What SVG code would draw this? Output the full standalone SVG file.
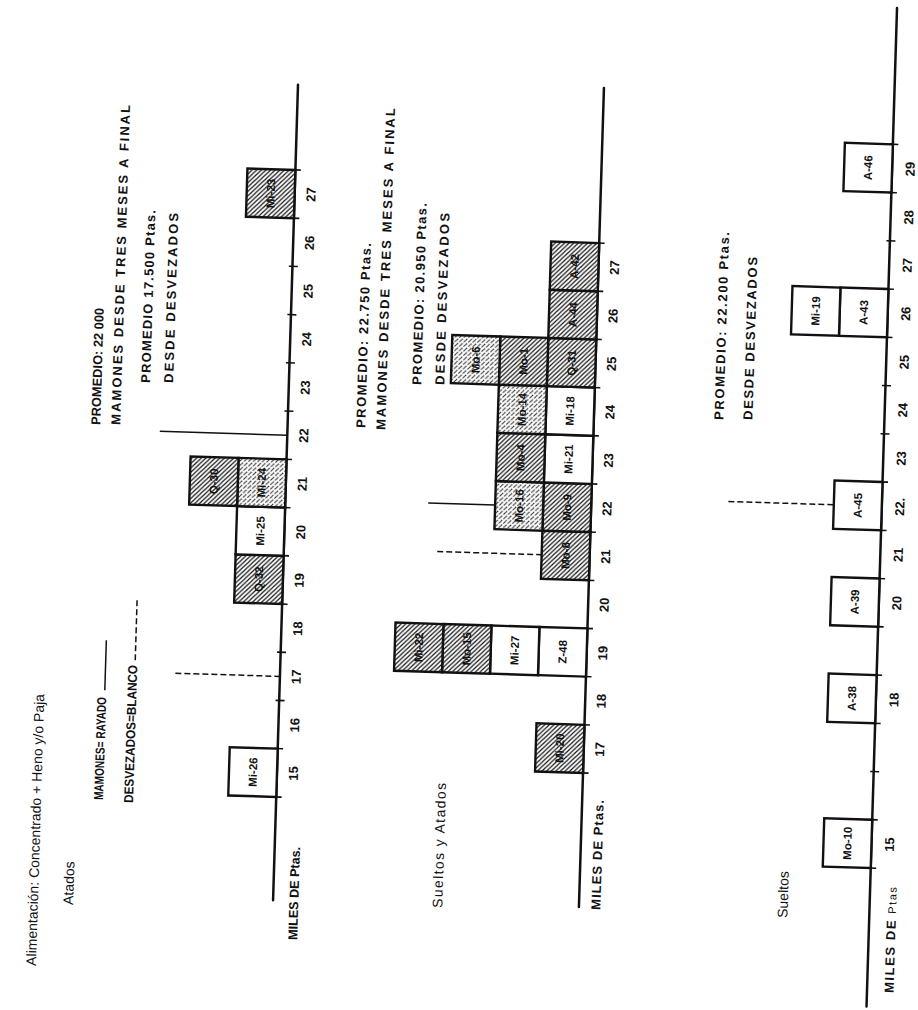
<svg xmlns="http://www.w3.org/2000/svg" width="918" height="1010" viewBox="0 0 918 1010">
<defs>
<pattern id="hatch" patternUnits="userSpaceOnUse" width="4.5" height="4.5">
<rect width="4.5" height="4.5" fill="#fff"/>
<path d="M-1,-1 L5.5,5.5 M-1,3.5 L1,5.5 M3.5,-1 L5.5,1" stroke="#111" stroke-width="1.2"/>
</pattern>
<pattern id="hatch2" patternUnits="userSpaceOnUse" width="4.5" height="4.5">
<rect width="4.5" height="4.5" fill="#fff"/>
<path d="M-1,-1 L5.5,5.5 M-1,3.5 L1,5.5 M3.5,-1 L5.5,1" stroke="#222" stroke-width="1" stroke-dasharray="3 1.5"/>
</pattern>
</defs>
<style>
.ax{stroke:#111;stroke-width:2.5;fill:none;stroke-linecap:round}
.tk{stroke:#111;stroke-width:1.6;fill:none}
.bx{stroke:#111;stroke-width:2.4;fill:#fff}
.h1{fill:url(#hatch)}
.h2{fill:url(#hatch2)}
.avg{stroke:#111;stroke-width:1.5;fill:none}
.dsh{stroke:#111;stroke-width:1.5;fill:none;stroke-dasharray:6 3}
text{font-family:"Liberation Sans",Arial,sans-serif;fill:#111}
.n{font-size:13px;font-weight:bold;text-anchor:middle}
.bl{font-size:11.5px;font-weight:bold;text-anchor:middle}
.cap{font-size:13px;font-weight:bold}
.reg{font-size:14px}
</style>
<g transform="translate(0,1010) rotate(-88.25)">

<g id="titles">
<text class="reg" x="45.1" y="34.6" font-size="13.5" textLength="272">Alimentación: Concentrado + Heno y/o Paja</text>
<text class="reg" x="107.1" y="69.8">Atados</text>
<text class="cap" x="213" y="96.6" font-size="12" textLength="103" lengthAdjust="spacingAndGlyphs">MAMONES= RAYADO</text>
<line class="avg" x1="322.9" y1="95" x2="372.9" y2="95"/>
<text class="cap" x="211" y="126.7" font-size="12" textLength="138" lengthAdjust="spacingAndGlyphs">DESVEZADOS=BLANCO</text>
<line class="dsh" x1="353.8" y1="124.5" x2="413.8" y2="124.5" stroke-dasharray="5 4"/>
<text class="cap" x="587.8" y="82.3" textLength="117" lengthAdjust="spacingAndGlyphs">PROMEDIO: 22 000</text>
<text class="cap" x="588.5" y="102.3" textLength="320">MAMONES DESDE TRES MESES A FINAL</text>
<text class="cap" x="631.3" y="130.9" textLength="173">PROMEDIO 17.500 Ptas.</text>
<text class="cap" x="632" y="153.9" textLength="170">DESDE DESVEZADOS</text>
<text class="reg" x="115.4" y="438.9" textLength="125">Sueltos y Atados</text>
<text class="cap" x="592.8" y="347.2" textLength="185">PROMEDIO: 22.750 Ptas.</text>
<text class="cap" x="591.4" y="367.3" textLength="322">MAMONES DESDE TRES MESES A FINAL</text>
<text class="cap" x="637.5" y="401.9" textLength="182">PROMEDIO: 20.950 Ptas.</text>
<text class="cap" x="638.2" y="424.9" textLength="172">DESDE DESVEZADOS</text>
<text class="reg" x="116" y="784.2">Sueltos</text>
<text class="cap" x="611.8" y="705" textLength="188">PROMEDIO: 22.200 Ptas.</text>
<text class="cap" x="612.6" y="734" textLength="163">DESDE DESVEZADOS</text>
</g>

<g id="connectors">
<line class="ax" x1="118" y1="269.6" x2="934" y2="269.6"/>
<path class="tk" d="M221.4,266v9 M269.7,266v9 M317.9,266v9 M366.2,266v9 M414.4,266v9 M462.7,266v9 M510.9,266v9 M559.2,266v9 M607.4,266v9 M655.7,266v9 M703.9,266v9 M752.2,266v9 M800.4,266v9 M848.7,266v9"/>
<line class="avg" x1="583.3" y1="142" x2="583.3" y2="269.6"/>
<line class="dsh" x1="342" y1="165" x2="342" y2="269.6"/>
<line class="ax" x1="120.6" y1="575.5" x2="940" y2="575.5"/>
<path class="tk" d="M254.7,572v9 M302.9,572v9 M351.1,572v9 M399.3,572v9 M447.5,572v9 M495.7,572v9 M543.9,572v9 M592.1,572v9 M640.3,572v9 M688.5,572v9 M736.7,572v9 M784.9,572v9"/>
<line class="avg" x1="519.8" y1="412.5" x2="519.8" y2="479.5"/>
<line class="dsh" x1="471.6" y1="423" x2="471.6" y2="527.5"/>
<line class="ax" x1="30" y1="866" x2="1029" y2="866"/>
<path class="tk" d="M168.5,862.5v9 M216.8,862.5v9 M265,862.5v9 M313.3,862.5v9 M361.6,862.5v9 M409.9,862.5v9 M458.1,862.5v9 M506.4,862.5v9 M554.7,862.5v9 M602.9,862.5v9 M651.2,862.5v9 M699.5,862.5v9 M747.7,862.5v9 M796,862.5v9 M844.3,862.5v9 M892.6,862.5v9"/>
<line class="dsh" x1="530.5" y1="712.5" x2="530.5" y2="818"/>
</g>

<g id="axis-labels">
<text class="cap" x="79.1" y="294.9" font-size="12.5" textLength="93" lengthAdjust="spacingAndGlyphs">MILES DE Ptas.</text>
<text class="n" x="245.5" y="290.5">15</text><text class="n" x="293.8" y="290.5">16</text><text class="n" x="342" y="290.5">17</text><text class="n" x="390.3" y="290.5">18</text><text class="n" x="438.5" y="290.5">19</text><text class="n" x="486.8" y="290.5">20</text><text class="n" x="535" y="290.5">21</text><text class="n" x="583.3" y="290.5">22</text><text class="n" x="631.5" y="290.5">23</text><text class="n" x="679.8" y="290.5">24</text><text class="n" x="728" y="290.5">25</text><text class="n" x="776.3" y="290.5">26</text><text class="n" x="824.5" y="290.5">27</text>
<text class="cap" x="118.3" y="597" font-size="12.5" textLength="110">MILES DE Ptas.</text>
<text class="n" x="278.8" y="596">17</text><text class="n" x="327" y="596">18</text><text class="n" x="375.2" y="596">19</text><text class="n" x="423.4" y="596">20</text><text class="n" x="471.6" y="596">21</text><text class="n" x="519.8" y="596">22</text><text class="n" x="568" y="596">23</text><text class="n" x="616.2" y="596">24</text><text class="n" x="664.4" y="596">25</text><text class="n" x="712.6" y="596">26</text><text class="n" x="760.8" y="596">27</text>
<text class="cap" x="44.2" y="892.5" font-size="12.5" textLength="106">MILES DE <tspan font-weight="normal" font-size="11">Ptas</tspan></text>
<text class="n" x="192.6" y="888.5">15</text><text class="n" x="337.4" y="888.5">18</text><text class="n" x="434" y="888.5">20</text><text class="n" x="482.3" y="888.5">21</text><text class="n" x="530.5" y="888.5">22.</text><text class="n" x="578.8" y="888.5">23</text><text class="n" x="627.1" y="888.5">24</text><text class="n" x="675.3" y="888.5">25</text><text class="n" x="723.6" y="888.5">26</text><text class="n" x="771.9" y="888.5">27</text><text class="n" x="820.1" y="888.5">28</text><text class="n" x="868.4" y="888.5">29</text>
</g>

<g id="p1-Mi-26"><rect class="bx" x="221.4" y="221.6" width="48.25" height="48"/><text class="bl" x="245.5" y="249.6">Mi-26</text></g>
<g id="p1-Q-32"><rect class="bx h1" x="414.4" y="221.6" width="48.25" height="48"/><text class="bl" x="438.5" y="249.6">Q-32</text></g>
<g id="p1-Mi-25"><rect class="bx" x="462.65" y="221.6" width="48.25" height="48"/><text class="bl" x="486.8" y="249.6">Mi-25</text></g>
<g id="p1-Mi-24"><rect class="bx h2" x="510.9" y="221.6" width="48.25" height="48"/><text class="bl" x="535" y="249.6">Mi-24</text></g>
<g id="p1-Q-30"><rect class="bx h1" x="510.9" y="173.6" width="48.25" height="48"/><text class="bl" x="535" y="201.6">Q-30</text></g>
<g id="p1-Mi-23"><rect class="bx h1" x="800.4" y="221.6" width="48.25" height="48"/><text class="bl" x="824.5" y="249.6">Mi-23</text></g>

<g id="p2-Mi-20"><rect class="bx h1" x="254.7" y="527.5" width="48.2" height="48"/><text class="bl" x="278.8" y="555.5">Mi-20</text></g>
<g id="p2-Z-48"><rect class="bx" x="351.1" y="527.5" width="48.2" height="48"/><text class="bl" x="375.2" y="555.5">Z-48</text></g>
<g id="p2-Mi-27"><rect class="bx" x="351.1" y="479.5" width="48.2" height="48"/><text class="bl" x="375.2" y="507.5">Mi-27</text></g>
<g id="p2-Mo-15"><rect class="bx h1" x="351.1" y="431.5" width="48.2" height="48"/><text class="bl" x="375.2" y="459.5">Mo-15</text></g>
<g id="p2-Mi-22"><rect class="bx h1" x="351.1" y="383.5" width="48.2" height="48"/><text class="bl" x="375.2" y="411.5">Mi-22</text></g>
<g id="p2-Mo-8"><rect class="bx h1" x="447.5" y="527.5" width="48.2" height="48"/><text class="bl" x="471.6" y="555.5">Mo-8</text></g>
<g id="p2-Mo-9"><rect class="bx h1" x="495.7" y="527.5" width="48.2" height="48"/><text class="bl" x="519.8" y="555.5">Mo-9</text></g>
<g id="p2-Mo-16"><rect class="bx h2" x="495.7" y="479.5" width="48.2" height="48"/><text class="bl" x="519.8" y="507.5">Mo-16</text></g>
<g id="p2-Mi-21"><rect class="bx" x="543.9" y="527.5" width="48.2" height="48"/><text class="bl" x="568" y="555.5">Mi-21</text></g>
<g id="p2-Mo-4"><rect class="bx h1" x="543.9" y="479.5" width="48.2" height="48"/><text class="bl" x="568" y="507.5">Mo-4</text></g>
<g id="p2-Mi-18"><rect class="bx" x="592.1" y="527.5" width="48.2" height="48"/><text class="bl" x="616.2" y="555.5">Mi-18</text></g>
<g id="p2-Mo-14"><rect class="bx h2" x="592.1" y="479.5" width="48.2" height="48"/><text class="bl" x="616.2" y="507.5">Mo-14</text></g>
<g id="p2-Q-31"><rect class="bx h1" x="640.3" y="527.5" width="48.2" height="48"/><text class="bl" x="664.4" y="555.5">Q-31</text></g>
<g id="p2-Mo-1"><rect class="bx h1" x="640.3" y="479.5" width="48.2" height="48"/><text class="bl" x="664.4" y="507.5">Mo-1</text></g>
<g id="p2-Mo-6"><rect class="bx h2" x="640.3" y="431.5" width="48.2" height="48"/><text class="bl" x="664.4" y="459.5">Mo-6</text></g>
<g id="p2-A-44"><rect class="bx h1" x="688.5" y="527.5" width="48.2" height="48"/><text class="bl" x="712.6" y="555.5">A-44</text></g>
<g id="p2-A-42"><rect class="bx h1" x="736.7" y="527.5" width="48.2" height="48"/><text class="bl" x="760.8" y="555.5">A-42</text></g>

<g id="p3-Mo-10"><rect class="bx" x="168.5" y="818" width="48.27" height="48"/><text class="bl" x="192.6" y="846">Mo-10</text></g>
<g id="p3-A-38"><rect class="bx" x="313.3" y="818" width="48.27" height="48"/><text class="bl" x="337.4" y="846">A-38</text></g>
<g id="p3-A-39"><rect class="bx" x="409.9" y="818" width="48.27" height="48"/><text class="bl" x="434" y="846">A-39</text></g>
<g id="p3-A-45"><rect class="bx" x="506.4" y="818" width="48.27" height="48"/><text class="bl" x="530.5" y="846">A-45</text></g>
<g id="p3-A-43"><rect class="bx" x="699.5" y="818" width="48.27" height="48"/><text class="bl" x="723.6" y="846">A-43</text></g>
<g id="p3-Mi-19"><rect class="bx" x="699.5" y="770" width="48.27" height="48"/><text class="bl" x="723.6" y="798">Mi-19</text></g>
<g id="p3-A-46"><rect class="bx" x="844.3" y="818" width="48.27" height="48"/><text class="bl" x="868.4" y="846">A-46</text></g>

</g>
</svg>
